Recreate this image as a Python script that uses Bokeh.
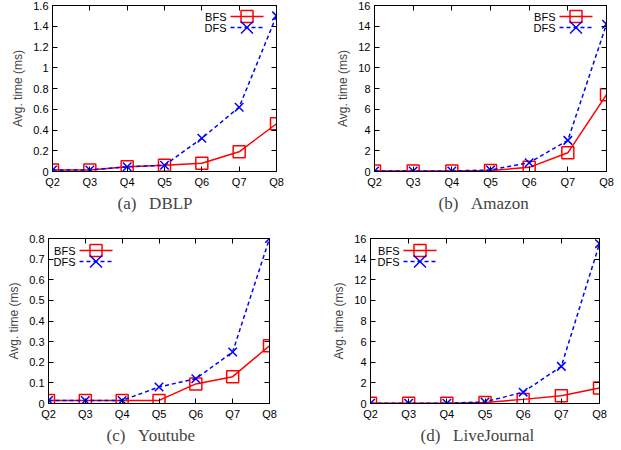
from bokeh.plotting import figure
from bokeh.layouts import column, row
from bokeh.models import (LinearAxis, FixedTicker, Range1d, Arrow, BoxAnnotation, Label,
                          CustomJSTickFormatter, ColumnDataSource)
from bokeh.embed import file_html
from bokeh.resources import INLINE

# Query sizes along the x axis
queries = ["Q2", "Q3", "Q4", "Q5", "Q6", "Q7", "Q8"]
q_pos = [2, 3, 4, 5, 6, 7, 8]

# Average time (ms) per dataset
dblp_bfs = [0.015, 0.015, 0.045, 0.06, 0.08, 0.19, 0.46]
dblp_dfs = [0.015, 0.015, 0.045, 0.06, 0.32, 0.62, 1.50]

amazon_bfs = [0.05, 0.05, 0.05, 0.10, 0.40, 1.80, 7.40]
amazon_dfs = [0.05, 0.05, 0.05, 0.15, 0.85, 3.00, 14.20]

youtube_bfs = [0.015, 0.015, 0.015, 0.015, 0.095, 0.13, 0.28]
youtube_dfs = [0.015, 0.015, 0.015, 0.08, 0.12, 0.25, 0.80]

lj_bfs = [0.03, 0.03, 0.03, 0.10, 0.40, 0.75, 1.50]
lj_dfs = [0.03, 0.03, 0.03, 0.15, 1.10, 3.60, 15.50]

# Y tick values per panel
ticks_dblp = [0, 0.2, 0.4, 0.6, 0.8, 1.0, 1.2, 1.4, 1.6]
ticks_amazon = [0, 2, 4, 6, 8, 10, 12, 14, 16]
ticks_youtube = [0, 0.1, 0.2, 0.3, 0.4, 0.5, 0.6, 0.7, 0.8]
ticks_lj = [0, 2, 4, 6, 8, 10, 12, 14, 16]

series_names = ["BFS", "DFS"]

SANS = "Liberation Sans"
SERIF = "Liberation Serif"
GAP = "\u00a0\u00a0\u00a0"
RED = "#ff0000"
BLUE = "#0000ff"
DASH = "4 3"
MARK = 12       # marker size in px
LW = 1.5

fmt_y = CustomJSTickFormatter(code="return String(parseFloat(tick.toFixed(3)));")
fmt_blank = CustomJSTickFormatter(code="return '';")

KEY_W = 33      # key sample length
ROW_H = 11      # key row spacing


def seg(p, x0, y0, x1, y1, color, dash="solid"):
    p.add_layout(Arrow(x_start=x0, y_start=y0, x_end=x1, y_end=y1,
                       start_units="screen", end_units="screen", end=None,
                       line_color=color, line_width=LW, line_dash=dash))


def key_entry(p, name, x, y, color, dash, marker):
    """gnuplot style key row: label, then a line sample with a marker."""
    p.add_layout(Label(x=x - 4, y=y, x_units="screen", y_units="screen", text=name,
                       text_align="right", text_baseline="middle",
                       text_font=SANS, text_font_size="11px", text_color="black"))
    seg(p, x, y, x + KEY_W, y, color, dash)
    cx = x + KEY_W / 2
    h = MARK / 2
    if marker == "square":
        p.add_layout(BoxAnnotation(left=cx - h, right=cx + h, bottom=y - h, top=y + h,
                                   left_units="screen", right_units="screen",
                                   bottom_units="screen", top_units="screen",
                                   fill_color=None, line_color=color, line_width=LW,
                                   line_alpha=1))
    else:
        seg(p, cx - h, y - h, cx + h, y + h, color)
        seg(p, cx - h, y + h, cx + h, y - h, color)


def panel(caption, bfs, dfs, yticks, width, height,
          b_left, b_right, b_top, b_bottom, cap_offset, key_x, key_top):
    p = figure(width=width, height=height, output_backend="svg",
               toolbar_location=None, tools="",
               x_range=Range1d(q_pos[0], q_pos[-1]),
               y_range=Range1d(yticks[0], yticks[-1]),
               min_border_left=b_left, min_border_right=b_right,
               min_border_top=b_top, min_border_bottom=b_bottom,
               title=caption, title_location="below")
    p.grid.visible = False
    p.outline_line_color = "black"
    p.outline_line_width = 1
    p.background_fill_color = "white"
    p.border_fill_color = "white"

    p.title.text_font = SERIF
    p.title.text_font_size = "17px"
    p.title.text_font_style = "normal"
    p.title.align = "left"
    p.title.offset = cap_offset
    p.title.standoff = 2

    xa = p.xaxis[0]
    xa.ticker = FixedTicker(ticks=q_pos)
    xa.major_label_overrides = {q: lab for q, lab in zip(q_pos, queries)}
    ya = p.yaxis[0]
    ya.ticker = FixedTicker(ticks=yticks)
    ya.formatter = fmt_y
    ya.axis_label = "Avg. time (ms)"
    ya.axis_label_text_font = SANS
    ya.axis_label_text_font_size = "12px"
    ya.axis_label_text_font_style = "normal"
    ya.axis_label_standoff = 5

    for ax in (xa, ya):
        ax.major_tick_in = 5
        ax.major_tick_out = 0
        ax.minor_tick_in = 0
        ax.minor_tick_out = 0
        ax.axis_line_color = "black"
        ax.major_label_text_font = SANS
        ax.major_label_text_font_size = "11px"
        ax.major_label_text_color = "black"
        ax.major_label_standoff = 4

    # mirrored tick marks on the top and right edges
    for ticks, side in ((q_pos, "above"), (yticks, "right")):
        mirror = LinearAxis(ticker=FixedTicker(ticks=ticks), formatter=fmt_blank,
                            major_tick_in=5, major_tick_out=0,
                            minor_tick_in=0, minor_tick_out=0,
                            major_label_text_font_size="1px",
                            major_label_standoff=0)
        p.add_layout(mirror, side)

    src = ColumnDataSource(dict(x=q_pos, bfs=bfs, dfs=dfs))
    p.line("x", "bfs", source=src, line_color=RED, line_width=LW)
    p.scatter("x", "bfs", source=src, marker="square", size=MARK,
              fill_color=None, line_color=RED, line_width=LW)
    p.line("x", "dfs", source=src, line_color=BLUE, line_width=LW, line_dash=DASH)
    p.scatter("x", "dfs", source=src, marker="x", size=MARK,
              line_color=BLUE, line_width=LW)

    # key, top rows measured down from the frame top
    frame_h = height - b_top - b_bottom
    key_entry(p, series_names[0], key_x, frame_h - key_top, RED, "solid", "square")
    key_entry(p, series_names[1], key_x, frame_h - key_top - ROW_H, BLUE, DASH, "x")
    return p


pa = panel("(a)" + GAP + "DBLP", dblp_bfs, dblp_dfs, ticks_dblp,
           310, 225, 52, 34, 5, 54, 65, 178, 11)
pb = panel("(b)" + GAP + "Amazon", amazon_bfs, amazon_dfs, ticks_amazon,
           311, 225, 64, 15, 5, 54, 64, 185, 11)
pc = panel("(c)" + GAP + "Youtube", youtube_bfs, youtube_dfs, ticks_youtube,
           310, 225, 48, 41, 13, 47, 58, 31, 12)
pd = panel("(d)" + GAP + "LiveJournal", lj_bfs, lj_dfs, ticks_lj,
           311, 225, 60, 22, 13, 47, 50, 33, 12)

layout = column(row(pa, pb), row(pc, pd))
open("out.html", "w").write(file_html(layout, INLINE))
